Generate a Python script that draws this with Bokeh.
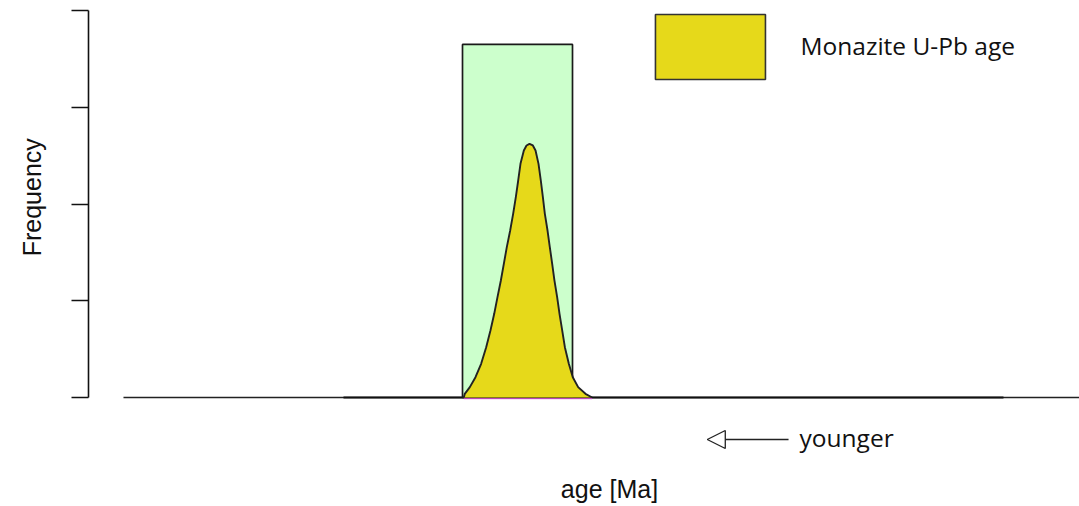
import numpy as np
from bokeh.plotting import figure
from bokeh.models import Label, Arrow, NormalHead, FixedTicker, Range1d, CustomJSTickFormatter
from bokeh.embed import file_html
from bokeh.resources import INLINE

# ---- data (arbitrary age units, frequency units) ----
kde_age = [37.87, 37.97, 38.48, 39.05, 39.62, 40.13, 40.56, 40.94, 41.27, 41.61, 41.91,
           42.21, 42.55, 42.85, 43.12, 43.36, 43.59, 43.93, 44.20, 44.50,
           44.84, 45.11, 45.41, 45.64, 45.85, 46.05, 46.32, 46.55, 46.79, 47.02,
           47.29, 47.53, 47.80, 48.07, 48.47, 48.87, 49.41, 50.15, 50.82]
kde_freq = [0.0, 0.038, 0.107, 0.210, 0.348, 0.520, 0.693, 0.865, 1.037, 1.209, 1.382,
            1.554, 1.726, 1.898, 2.071, 2.243, 2.415, 2.553, 2.605, 2.622,
            2.605, 2.553, 2.415, 2.243, 2.071, 1.898, 1.726, 1.554, 1.382, 1.209,
            1.037, 0.865, 0.693, 0.520, 0.348, 0.210, 0.107, 0.038, 0.0]
hist_left = [37.74]
hist_right = [48.84]
hist_count = [3.649]
base1_age = [3.53, 100.0]
base2_age = [25.73, 92.33]
y_ticks = [0, 1, 2, 3, 4]
legend_label = "Monazite U-Pb age"
x_label = "age [Ma]"
y_label = "Frequency"
arrow_label = "younger"

YELLOW = "#E6D91A"
GREEN = "#CCFFCC"

p = figure(width=1079, height=506, output_backend="svg", toolbar_location=None,
           x_range=Range1d(-8.880, 100), y_range=Range1d(-1.1266, 4.1034),
           min_border_left=0, min_border_right=0, min_border_top=0, min_border_bottom=0)
p.outline_line_color = None
p.grid.visible = False
p.xaxis.visible = False
p.background_fill_color = "white"
p.border_fill_color = "white"

ya = p.yaxis[0]
ya.fixed_location = 0
ya.bounds = (0, 4)
ya.ticker = FixedTicker(ticks=y_ticks)
ya.formatter = CustomJSTickFormatter(code="return ''")
ya.major_label_standoff = 0
ya.major_tick_out = 17
ya.major_tick_in = 0
ya.minor_tick_out = 0
ya.minor_tick_in = 0
ya.axis_line_width = 1.6
ya.major_tick_line_width = 1.6
ya.axis_line_color = "#111111"
ya.major_tick_line_color = "#111111"

# baselines
p.line(base1_age, [0, 0], line_color="#222222", line_width=1.5)
p.line(base2_age, [0, 0], line_color="#111111", line_width=2)

# histogram bar
p.quad(left=hist_left, right=hist_right, bottom=[0], top=hist_count,
       fill_color=GREEN, line_color="#1a1a1a", line_width=1.7)

# KDE
p.varea(x=kde_age, y1=[0] * len(kde_age), y2=kde_freq, fill_color=YELLOW)
p.line(kde_age, kde_freq, line_color="#222222", line_width=1.9)
p.line([kde_age[0], kde_age[-1]], [-0.012, -0.012], line_color="#cc44cc", line_width=1)

# legend box
p.quad(left=[57.21], right=[68.31], bottom=[3.287], top=[3.959],
       fill_color=YELLOW, line_color="#333333", line_width=1.6)
p.add_layout(Label(x=71.85, y=3.638, text=legend_label, text_font="Open Sans",
                   text_font_size="24.5px", text_color="#111111", text_baseline="alphabetic"))

# younger arrow
p.add_layout(Arrow(x_start=70.64, y_start=-0.434, x_end=62.44, y_end=-0.434,
                   line_width=1.3, line_color="#222222",
                   end=NormalHead(size=18, line_width=1.3, line_color="#222222",
                                  fill_color="white")))
p.add_layout(Label(x=71.75, y=-0.411, text=arrow_label, text_font="Open Sans",
                   text_font_size="24.5px", text_color="#111111", text_baseline="alphabetic"))

# axis labels
p.add_layout(Label(x=52.57, y=-0.948, text=x_label, text_font="Liberation Sans",
                   text_font_size="25px", text_color="#111111", text_align="center",
                   text_baseline="alphabetic"))
p.add_layout(Label(x=-5.72, y=2.07, text=y_label, text_font="Liberation Sans",
                   text_font_size="25px", text_color="#111111", text_align="center",
                   text_baseline="alphabetic", angle=np.pi / 2))

open("out.html", "w").write(file_html(p, INLINE))
